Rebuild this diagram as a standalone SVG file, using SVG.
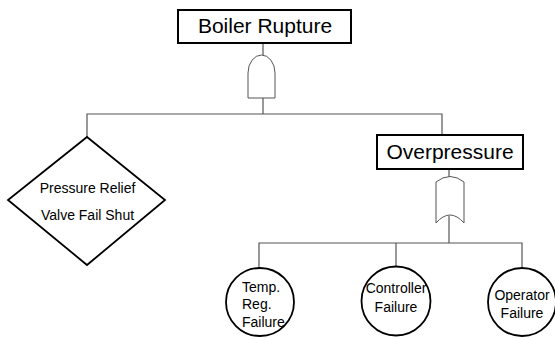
<svg xmlns="http://www.w3.org/2000/svg" width="555" height="339" viewBox="0 0 555 339">
  <style>
    .box { fill: #fff; stroke: #000; stroke-width: 2; }
    .evt { fill: #fff; stroke: #000; stroke-width: 1.8; }
    .gate { fill: #fff; stroke: #555; stroke-width: 1; }
    .wire { fill: none; stroke: #555; stroke-width: 1.2; }
    .big { font-family: "Liberation Sans", Arial, sans-serif; font-size: 21px; fill: #000; text-anchor: middle; }
    .small { font-family: "Liberation Sans", Arial, sans-serif; font-size: 14px; fill: #000; }
  </style>
  <rect width="555" height="339" fill="#fff"/>

  <!-- connectors -->
  <g id="connectors">
    <path class="wire" d="M263 43 V55"/>
    <path class="wire" d="M263 98 V114"/>
    <path class="wire" d="M87 137 V114 H442 V135"/>
    <path class="wire" d="M449 169 V177"/>
    <path class="wire" d="M449 216 V243"/>
    <path class="wire" d="M259 268 V243 H522 V267"/>
    <path class="wire" d="M396 243 V267"/>
  </g>

  <!-- top event -->
  <g id="boiler-rupture">
    <rect class="box" x="178" y="10" width="173" height="33"/>
    <text class="big" x="265" y="33">Boiler Rupture</text>
  </g>

  <!-- AND gate -->
  <g id="and-gate">
    <path class="gate" d="M248 98 V73 A13.5 18 0 0 1 275 73 V98 Z"/>
  </g>

  <!-- basic event: relief valve -->
  <g id="relief-valve">
    <polygon class="evt" points="87,137 165,200 87,265 8,200"/>
    <text class="small" x="87.5" y="193" text-anchor="middle">Pressure Relief</text>
    <text class="small" x="87.5" y="220" text-anchor="middle">Valve Fail Shut</text>
  </g>

  <!-- intermediate event -->
  <g id="overpressure">
    <rect class="box" x="377" y="135" width="146" height="34"/>
    <text class="big" x="450" y="159">Overpressure</text>
  </g>

  <!-- OR gate -->
  <g id="or-gate">
    <path class="gate" d="M436 223 V182 Q450 171 464 182 V223 Q450 207 436 223 Z"/>
  </g>

  <!-- basic events -->
  <g id="temp-reg-failure">
    <circle class="evt" cx="260" cy="302" r="34"/>
    <text class="small" x="242" y="292">Temp.</text>
    <text class="small" x="242" y="309">Reg.</text>
    <text class="small" x="242" y="327">Failure</text>
  </g>
  <g id="controller-failure">
    <circle class="evt" cx="396" cy="301" r="34.5"/>
    <text class="small" x="396" y="293" text-anchor="middle">Controller</text>
    <text class="small" x="396" y="312" text-anchor="middle">Failure</text>
  </g>
  <g id="operator-failure">
    <circle class="evt" cx="522" cy="302" r="34"/>
    <text class="small" x="522" y="300" text-anchor="middle">Operator</text>
    <text class="small" x="522" y="318" text-anchor="middle">Failure</text>
  </g>
</svg>
